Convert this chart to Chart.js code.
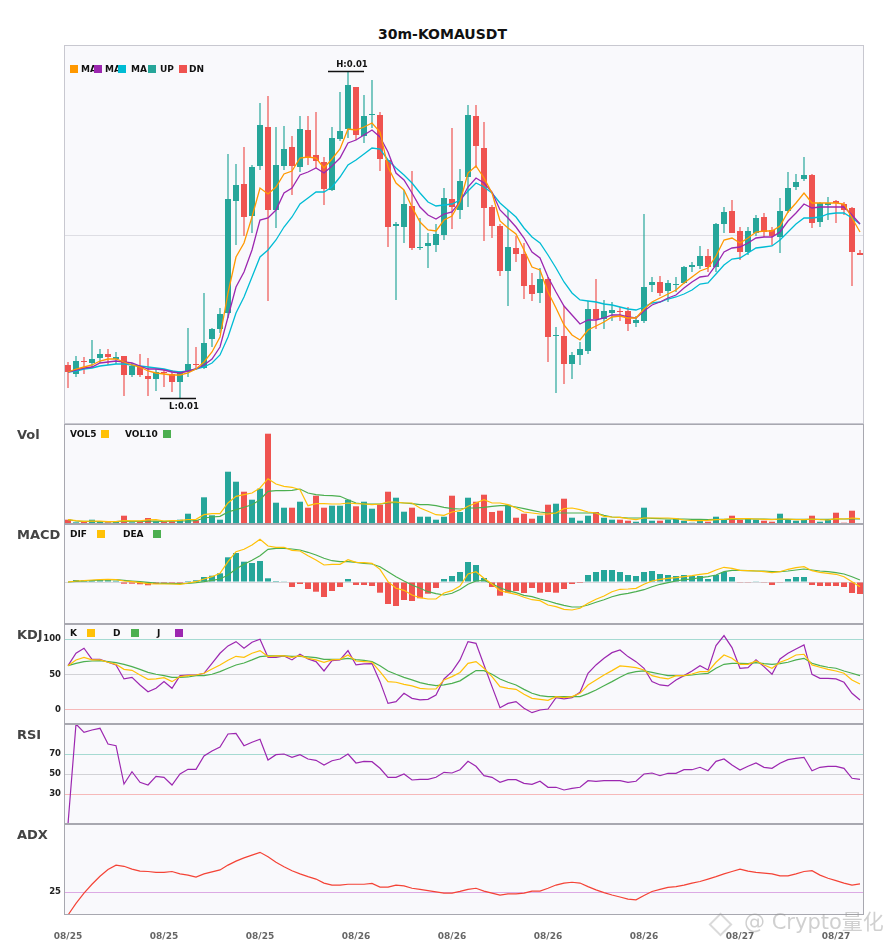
<!DOCTYPE html>
<html lang="en">
<head>
  <meta charset="UTF-8" />
  <title>30m-KOMAUSDT</title>
  <script src="https://cdn.jsdelivr.net/npm/chart.js"></script>
  <style>
    body { margin: 0; background: #fff; font-family: "DejaVu Sans", "Noto Sans CJK SC", sans-serif; }
    #wrap { position: relative; width: 885px; height: 950px; overflow: hidden; }
    .panel { position: absolute; left: 0; width: 885px; }
    .title { position: absolute; left: 0; width: 885px; top: 25px; line-height: 18px; text-align: center; font-size: 14px; font-weight: bold; color: #111; }
    .side { position: absolute; left: 17px; font-size: 13px; font-weight: bold; color: #444; line-height: 16px; }
    .lg { position: absolute; font-size: 9px; font-weight: bold; color: #111; line-height: 10px; white-space: nowrap; }
    .sq { position: absolute; width: 8px; height: 8px; }
    .mark { position: absolute; left: 744px; top: 909px; font-size: 21px; line-height: 26px; color: rgba(150,150,150,0.45); white-space: nowrap; }
    .logo { position: absolute; left: 712px; top: 916px; width: 13px; height: 13px; border: 2px solid rgba(150,150,150,0.35); transform: rotate(45deg); }
  </style>
</head>
<body>
<div id="wrap">
  <div class="title">30m-KOMAUSDT</div>

  <div class="panel" style="top:45px;height:379px"><canvas id="cMain"></canvas></div>
  <div class="panel" style="top:424px;height:100px"><canvas id="cVol"></canvas></div>
  <div class="panel" style="top:524px;height:100px"><canvas id="cMacd"></canvas></div>
  <div class="panel" style="top:624px;height:100px"><canvas id="cKdj"></canvas></div>
  <div class="panel" style="top:724px;height:100px"><canvas id="cRsi"></canvas></div>
  <div class="panel" style="top:824px;height:126px"><canvas id="cAdx"></canvas></div>

  <!-- panel names -->
  <div class="side" style="top:427px">Vol</div>
  <div class="side" style="top:527px">MACD</div>
  <div class="side" style="top:627px">KDJ</div>
  <div class="side" style="top:727px">RSI</div>
  <div class="side" style="top:827px">ADX</div>

  <!-- main legend (items overlap like the original) -->
  <div class="sq" style="left:70px;top:65px;background:#ff9800"></div>
  <div class="lg" style="left:81px;top:64px">MA</div>
  <div class="sq" style="left:94px;top:65px;background:#9c27b0"></div>
  <div class="lg" style="left:105px;top:64px">MA</div>
  <div class="sq" style="left:118px;top:65px;background:#00bcd4"></div>
  <div class="lg" style="left:131px;top:64px">MA</div>
  <div class="sq" style="left:148px;top:65px;background:#26a69a"></div>
  <div class="lg" style="left:160px;top:64px">UP</div>
  <div class="sq" style="left:179px;top:65px;background:#ef5350"></div>
  <div class="lg" style="left:189px;top:64px">DN</div>

  <!-- sub legends -->
  <div class="lg" style="left:70px;top:429px">VOL5</div>
  <div class="sq" style="left:101px;top:430px;background:#ffc107"></div>
  <div class="lg" style="left:125px;top:429px">VOL10</div>
  <div class="sq" style="left:163px;top:430px;background:#4caf50"></div>

  <div class="lg" style="left:70px;top:529px">DIF</div>
  <div class="sq" style="left:97px;top:530px;background:#ffc107"></div>
  <div class="lg" style="left:123px;top:529px">DEA</div>
  <div class="sq" style="left:153px;top:530px;background:#4caf50"></div>

  <div class="lg" style="left:70px;top:628px">K</div>
  <div class="sq" style="left:87px;top:629px;background:#ffc107"></div>
  <div class="lg" style="left:113px;top:628px">D</div>
  <div class="sq" style="left:131px;top:629px;background:#4caf50"></div>
  <div class="lg" style="left:157px;top:628px">J</div>
  <div class="sq" style="left:175px;top:629px;background:#9c27b0"></div>

  <div class="logo"></div>
  <div class="mark">@ Crypto量化</div>
</div>

<script>
  // ---- price data (30m candles) ----
  const open = [0.00870,0.00861,0.00874,0.00872,0.00877,0.00881,0.00876,0.00879,0.00860,0.00869,
    0.00859,0.00856,0.00863,0.00861,0.00853,0.00863,0.00871,0.00867,0.00896,0.00906,
    0.00922,0.01034,0.01051,0.01019,0.01069,0.01108,0.01025,0.01069,0.01088,0.01068,
    0.01105,0.01080,0.01073,0.01045,0.01096,0.01106,0.01148,0.01099,0.01120,0.01120,
    0.01075,0.01009,0.01008,0.01029,0.00987,0.00989,0.00990,0.01000,0.01036,0.01025,
    0.01058,0.01119,0.01087,0.01028,0.01009,0.00964,0.00987,0.00981,0.00950,0.00942,
    0.00956,0.00899,0.00899,0.00871,0.00880,0.00884,0.00926,0.00916,0.00922,0.00924,
    0.00924,0.00912,0.00914,0.00950,0.00953,0.00944,0.00950,0.00952,0.00968,0.00969,
    0.00979,0.00968,0.01011,0.01024,0.01004,0.00983,0.01002,0.01018,0.01005,0.00998,
    0.01024,0.01048,0.01056,0.01060,0.01013,0.01030,0.01034,0.01031,0.01027,0.00982];
  const high = [0.00873,0.00879,0.00878,0.00895,0.00886,0.00886,0.00883,0.00879,0.00872,0.00881,
    0.00877,0.00866,0.00865,0.00865,0.00864,0.00907,0.00888,0.00942,0.00907,0.00927,
    0.01081,0.01071,0.01088,0.01070,0.01132,0.01139,0.01108,0.01109,0.01099,0.01119,
    0.01119,0.01123,0.01078,0.01108,0.01143,0.01163,0.01148,0.01140,0.01155,0.01123,
    0.01075,0.01013,0.01045,0.01064,0.01017,0.01002,0.01011,0.01047,0.01107,0.01066,
    0.01130,0.01130,0.01113,0.01030,0.01011,0.01025,0.00999,0.00992,0.00962,0.00967,
    0.00958,0.00908,0.00929,0.00883,0.00893,0.00934,0.00956,0.00935,0.00933,0.00928,
    0.00928,0.00919,0.01021,0.00958,0.00959,0.00955,0.00958,0.00969,0.00973,0.00989,
    0.00986,0.01012,0.01028,0.01035,0.01008,0.01008,0.01020,0.01022,0.01008,0.01037,
    0.01063,0.01061,0.01078,0.01061,0.01033,0.01038,0.01035,0.01033,0.01028,0.00985];
  const low = [0.00847,0.00858,0.00861,0.00868,0.00872,0.00870,0.00871,0.00839,0.00858,0.00858,
    0.00839,0.00844,0.00848,0.00843,0.00837,0.00858,0.00866,0.00866,0.00888,0.00902,
    0.00917,0.00990,0.00999,0.01002,0.01065,0.00934,0.01007,0.01065,0.01040,0.01063,
    0.01070,0.01067,0.01030,0.01044,0.01094,0.01097,0.01095,0.01092,0.01107,0.01064,
    0.00988,0.00935,0.00992,0.00985,0.00985,0.00967,0.00983,0.00995,0.01006,0.01016,
    0.01028,0.01067,0.00994,0.00997,0.00959,0.00929,0.00973,0.00936,0.00934,0.00932,
    0.00873,0.00842,0.00851,0.00856,0.00870,0.00881,0.00906,0.00906,0.00914,0.00914,
    0.00904,0.00908,0.00912,0.00943,0.00939,0.00933,0.00943,0.00951,0.00963,0.00966,
    0.00963,0.00963,0.01002,0.01002,0.00975,0.00980,0.00999,0.00998,0.00990,0.00982,
    0.01022,0.01045,0.01054,0.01007,0.01008,0.01015,0.01012,0.01020,0.00949,0.00980];
  const close = [0.00863,0.00874,0.00873,0.00876,0.00881,0.00878,0.00878,0.00860,0.00869,0.00860,
    0.00856,0.00863,0.00862,0.00853,0.00863,0.00871,0.00870,0.00892,0.00906,0.00921,
    0.01036,0.01050,0.01018,0.01068,0.01110,0.01025,0.01070,0.01086,0.01069,0.01106,
    0.01078,0.01074,0.01046,0.01097,0.01104,0.01150,0.01100,0.01119,0.01121,0.01076,
    0.01008,0.01011,0.01031,0.00987,0.00988,0.00992,0.01001,0.01037,0.01028,0.01054,
    0.01120,0.01089,0.01027,0.01009,0.00964,0.00988,0.00981,0.00949,0.00941,0.00956,
    0.00898,0.00900,0.00871,0.00880,0.00886,0.00926,0.00916,0.00924,0.00925,0.00923,
    0.00911,0.00915,0.00948,0.00953,0.00942,0.00952,0.00951,0.00968,0.00970,0.00979,
    0.00968,0.01011,0.01023,0.01002,0.00983,0.01004,0.01017,0.01003,0.00999,0.01024,
    0.01047,0.01053,0.01060,0.01012,0.01032,0.01032,0.01032,0.01025,0.00983,0.00980];

  const ma5 = [0.00863,0.00866,0.00868,0.00870,0.00874,0.00876,0.00876,0.00873,0.00870,0.00868,
    0.00864,0.00862,0.00861,0.00860,0.00860,0.00862,0.00866,0.00873,0.00883,0.00898,
    0.00942,0.00978,0.00992,0.01018,0.01047,0.01041,0.01048,0.01061,0.01064,0.01077,
    0.01078,0.01077,0.01067,0.01076,0.01086,0.01106,0.01105,0.01108,0.01112,0.01103,
    0.01068,0.01052,0.01045,0.01028,0.01013,0.01005,0.01004,0.01015,0.01019,0.01033,
    0.01062,0.01069,0.01057,0.01042,0.01014,0.01007,0.01001,0.00985,0.00968,0.00965,
    0.00943,0.00927,0.00910,0.00900,0.00895,0.00905,0.00909,0.00913,0.00918,0.00919,
    0.00917,0.00917,0.00926,0.00933,0.00937,0.00941,0.00945,0.00952,0.00958,0.00964,
    0.00967,0.00979,0.00995,0.00997,0.00992,0.00997,0.01003,0.01004,0.01004,0.01009,
    0.01023,0.01032,0.01042,0.01032,0.01032,0.01032,0.01032,0.01031,0.01017,0.01003];
  const ma10 = [0.00863,0.00865,0.00867,0.00868,0.00872,0.00873,0.00874,0.00873,0.00872,0.00869,
    0.00866,0.00866,0.00865,0.00863,0.00862,0.00864,0.00866,0.00870,0.00876,0.00888,
    0.00918,0.00948,0.00963,0.00985,0.01015,0.01017,0.01025,0.01042,0.01047,0.01060,
    0.01063,0.01067,0.01062,0.01069,0.01077,0.01092,0.01095,0.01100,0.01105,0.01098,
    0.01083,0.01062,0.01055,0.01042,0.01028,0.01020,0.01016,0.01021,0.01023,0.01033,
    0.01048,0.01057,0.01052,0.01043,0.01025,0.01017,0.01008,0.00997,0.00983,0.00977,
    0.00958,0.00943,0.00929,0.00920,0.00911,0.00915,0.00915,0.00917,0.00920,0.00920,
    0.00918,0.00917,0.00924,0.00930,0.00933,0.00937,0.00940,0.00947,0.00953,0.00958,
    0.00959,0.00970,0.00983,0.00987,0.00988,0.00992,0.00997,0.00998,0.00998,0.01003,
    0.01014,0.01022,0.01031,0.01027,0.01028,0.01028,0.01028,0.01028,0.01020,0.01011];
  const ma20 = [0.00863,0.00864,0.00866,0.00867,0.00869,0.00870,0.00871,0.00871,0.00870,0.00869,
    0.00868,0.00867,0.00866,0.00864,0.00863,0.00864,0.00866,0.00868,0.00872,0.00880,
    0.00898,0.00922,0.00938,0.00958,0.00978,0.00985,0.00995,0.01008,0.01018,0.01031,
    0.01037,0.01043,0.01043,0.01048,0.01058,0.01070,0.01075,0.01081,0.01087,0.01086,
    0.01075,0.01067,0.01060,0.01052,0.01042,0.01033,0.01029,0.01030,0.01031,0.01035,
    0.01044,0.01052,0.01048,0.01042,0.01032,0.01025,0.01018,0.01007,0.00998,0.00992,
    0.00980,0.00967,0.00953,0.00942,0.00935,0.00934,0.00933,0.00931,0.00930,0.00928,
    0.00926,0.00925,0.00928,0.00932,0.00933,0.00936,0.00938,0.00941,0.00945,0.00951,
    0.00952,0.00961,0.00970,0.00976,0.00977,0.00982,0.00987,0.00988,0.00989,0.00995,
    0.01003,0.01011,0.01017,0.01017,0.01018,0.01021,0.01022,0.01022,0.01017,0.01011];

  // ---- volume ----
  const volume = [4300,1700,2000,4300,2000,1700,2000,8300,1700,2700,
    6000,2700,2700,2700,4300,10300,3700,26700,8700,4300,
    52300,42300,32300,24300,35300,90300,21300,16300,16300,22300,
    16300,28300,16300,18300,18300,24300,17700,22300,15300,19300,
    32300,26300,12300,16300,7300,7300,4300,7300,28300,12000,
    26300,22300,29300,12000,13300,19300,6300,10300,5300,8300,
    19300,20300,25300,6300,3300,8300,12000,6300,4300,4300,
    3300,2300,16300,3300,3300,4300,5300,3300,1300,3300,
    2300,7300,4300,8300,4300,5300,4300,3300,2300,10300,
    4300,3300,4300,8300,2300,4300,11300,1300,13300,700];
  const vol5 = [4300,3300,2700,3000,2900,2300,2400,3300,3100,3200,
    4200,4300,3000,3400,3700,4500,4700,9300,10300,10300,
    21000,27700,29300,31000,36000,45300,40000,37700,36700,34300,
    18300,20300,20300,20000,20000,21000,20300,20000,19300,20000,
    22000,22000,21000,21000,16000,12700,9300,8700,12000,13300,
    17700,21000,24300,21000,21000,19300,16000,12000,11000,10000,
    10000,11000,15300,16000,14300,12000,11000,7700,7000,6700,
    5300,4300,6000,6000,6000,6000,5300,4000,3300,3300,
    3700,4300,4700,5300,5300,5300,5000,4700,4300,5000,
    5000,4300,4300,5000,4300,4000,5300,5000,6000,5300];
  const vol10 = [4300,3000,2700,2500,2400,2300,2300,2800,2700,2600,
    2800,2800,2700,2800,3000,3000,3300,6000,7000,7700,
    12000,14300,16700,19300,24300,32700,33300,33300,33700,35000,
    31000,29300,28700,28300,27700,24300,21000,20000,20000,20000,
    21000,21700,21000,20300,19300,19300,18300,16700,15300,15000,
    16000,16000,16700,17700,18300,18300,17000,15300,13700,12000,
    11000,11000,11000,11000,11000,11000,11000,8700,7000,6700,
    6000,6000,6000,5700,5300,5000,5000,5000,4700,4700,
    4300,4700,4700,4700,5000,5000,5000,5000,4700,4700,
    4700,4700,4700,4700,4700,4700,5000,5000,5000,5000];

  // ---- MACD (units of 1e-6) ----
  const macdHist = [0,2,1.7,2,2,2,1.3,-1.7,-1.7,-2.3,
    -3.3,-2,-1.7,-1.7,-1,1,1.7,5,6.3,8.7,
    24.7,29,20.3,19,21,3.7,1,0.3,-5,-2,
    -7,-9.7,-15,-9,-5,3,-3,-3,-4,-10.7,
    -22,-24,-18,-19,-16.3,-11.7,-6,3,6,10,
    20,17,4,-5,-13.7,-10.7,-9,-11,-6,-10.7,
    -10,-10.7,-7,-2,-1,7,10,12,12,10,
    7,6,10,11,8,7,6,7,6,6,
    3,7,10,5,-0.7,-0.7,0.7,-0.7,-3,-0.7,
    3,5,5,-3,-4,-4,-4,-5,-11,-12];
  const dif = [0,1,1.3,2,2.3,2.7,2.3,1,0.3,-0.7,
    -1.7,-2,-2,-2,-2.3,-1,0.3,3,5.3,8.7,
    20.3,30.3,32.7,37,42.7,36,34.7,34.7,31.7,31,
    26.3,22,17,17.7,17.7,22.3,19.7,19.3,18.7,12.7,
    0.3,-6.3,-8.3,-13,-15.7,-17,-17,-11,-8.7,-4,
    8,10.3,3.7,-2,-8.7,-10.7,-12.3,-15.3,-17.7,-18.7,
    -23,-24.7,-27.3,-28,-26.3,-21.3,-17.3,-14,-9.7,-7.3,
    -7,-6.3,-2.3,1,2.7,3.7,4.3,5.3,6.3,7.7,
    8.7,12,14.7,13.7,11.7,11.3,11,10.3,9.3,10.3,
    12.7,14.3,15.3,11.3,9.7,8.7,7.7,5.3,0.3,-4.7];
  const dea = [0,0.7,1,1.3,2,2.3,2.3,1.7,1,0.3,
    -0.3,-1,-1.3,-1.7,-1.7,-1.3,-0.7,0.3,1.7,3,
    7,13,17.7,21.7,26.3,32.7,33.7,33.7,33,32,
    29.7,27,23.7,21.3,20.3,20.3,19.7,18.7,18,15.3,
    10.3,5.3,1,-3,-6.3,-9.7,-11.7,-13,-11.3,-7.5,
    -2.3,1,1.7,-1.7,-5.7,-8.7,-10.7,-13.3,-14.7,-17,
    -19,-21.3,-23.3,-25,-25,-23,-20.3,-17.7,-14.7,-12.7,
    -11.3,-9.7,-7.7,-4.7,-2.3,-0.7,1,2.3,3,4.3,
    5.3,7,10.3,11.7,11.7,11.3,11,11,10.3,10.3,
    11,12,13,12,11,10.3,9.3,8,5.3,2];

  // ---- KDJ ----
  const kLine = [62.7,70.8,74.5,70.8,70.8,67.5,64.6,57.5,56.1,49.5,
    43.4,43.9,45.8,40.1,47.2,48.6,49.5,51.9,58,63.7,
    70.3,75.9,74.5,80.2,84,75.5,76.4,76.4,74.5,76.9,
    73.1,70.8,67.5,70.8,71.7,77.8,69.3,68.4,67.5,54.2,
    40.1,39.2,36.3,34,30.7,29.7,29.7,42.5,47.2,53,
    66,68.4,59,47.2,33,30.7,29.2,22.2,16.5,15.1,
    13.7,18.9,17.5,18.9,23.6,35.4,42.5,49.5,55.7,62.3,
    61.3,59.9,56.6,48.6,45.8,43.9,48.6,48.6,50.9,54.2,
    54.2,67.5,77.8,73.1,64.6,64.6,69.3,63.7,59,67.5,
    71.7,77.8,78.8,63.7,60.4,57.5,55.2,51.9,42.5,36.8];
  const dLine = [62.7,66,68.4,69.3,69.8,68.4,67,64.6,61.3,57.5,
    53.3,50.5,48.6,46.2,46.2,46.7,48.6,48.6,50.5,54.2,
    59,63.7,66.5,70.8,75.5,76.4,76.4,76.4,75.9,75.9,
    75,74.1,71.7,71.7,71.7,73.1,71.2,70.3,68.4,62.7,
    55.2,50.5,46.2,42.5,38.7,36.3,34.4,35.4,37.7,41.2,
    48.6,55.7,55.7,50.5,43.9,39.2,35.4,29.2,23.6,20.3,
    18.9,18.9,18.9,18.9,18.9,23.1,28.3,34.4,40.1,46.2,
    51.9,54.2,55.2,53.3,50.9,48.6,48.6,48.6,49.5,50.9,
    51.9,59,64.6,66,66,65.6,67,65.6,64.6,65.6,
    67.5,70.8,73.1,66,62.7,60.4,59,55.2,51.9,48.6];
  const jLine = [62.7,80.2,87.3,71.7,71.7,67.5,63.7,43.9,46.2,35.4,
    25.9,30.7,40.1,30.7,48.6,49.5,49.5,51.9,66,80.2,
    90.6,96.7,87.3,95.8,100,74.5,74.5,76.4,70.8,78.8,
    72.2,68.4,55.2,69.8,70.8,84,63.7,65.1,65.6,40.1,
    9.4,11.8,23.6,16.5,14.2,15.1,21.2,43.9,54.2,70.8,
    96.7,94.3,63.7,33,3.3,9.4,11.8,2.4,-3.8,0,
    1.4,17.5,15.6,17.5,25,51.9,63.7,73.1,81.1,84.9,
    75.5,68.4,59,40.1,35.4,34,42.5,48.6,55.2,62.7,
    56.6,91,105.2,88.2,59,59.9,70.8,61.3,50.5,72.2,
    80.2,86.3,92,50.5,44.8,44.8,43.9,39.2,23.6,14.2];

  // ---- RSI / ADX ----
  const rsi = [0,100,91.7,94,95.7,80,78.3,40,52.3,41.7,
    39,47.7,46.7,39,50,54.7,54.7,68,73,77,
    90,90.7,78.3,81.7,84.7,64,69.3,70,66.7,69.3,
    65,63.7,59,63.3,65,70,61,62.7,62.3,55.7,
    46.7,46.7,50,44,44.7,44.7,46.7,51.7,51,54.3,
    62.7,57.7,48.3,46.7,41.7,44.3,44.3,40.7,39.7,42.7,
    36.7,36.7,34,35.7,36.7,43.3,42.7,43.3,43.3,43.3,
    41.7,42.7,50,51,48.3,50.7,50.7,54.3,54.3,56.7,
    53.3,62.7,65,59,54,57.7,61,56.7,55.7,60.7,
    64.3,65.7,66.7,53.3,56.7,57.7,57.7,55.7,45.7,44.7];
  const adx = [19.3,22.2,24.8,27,29,30.7,31.8,31.5,30.8,30.3,
    30.2,30,30,30.2,29.6,29.3,28.8,29.6,30.1,30.6,
    31.8,32.8,33.6,34.3,35,33.9,32.5,31.4,30.4,29.6,
    28.9,28.3,27.3,26.8,26.8,27,27,27,27.2,26.3,
    26.3,26.8,26.6,26,25.7,25.4,25.1,24.8,24.8,25.2,
    25.7,26,25.3,24.8,24.3,24.6,24.6,24.8,25.3,25.3,
    26,26.8,27.3,27.5,27.3,26.4,25.6,24.9,24.3,23.8,
    23.3,23.1,24.2,25.2,25.7,26.2,26.4,26.8,27.3,27.7,
    28.3,28.9,29.6,30.2,30.8,30.3,30,29.8,29.6,29.1,
    29.1,29.6,30.2,30.4,29.3,28.5,27.9,27.3,26.8,27.1];

  // x tick labels, one every 12 candles
  const xTicks = ['08/25','08/25','08/25','08/26','08/26','08/26','08/26','08/27','08/27'];
  const tickEvery = 12;

  const UP = '#26a69a', DN = '#ef5350';
  const idx = open.map((_, i) => i);
  const candleColors = close.map((c, i) => c >= open[i] ? UP : DN);
  const histColors = macdHist.map(v => v >= 0 ? UP : DN);

  Chart.defaults.font.family = '"DejaVu Sans", sans-serif';

  // plot background + box
  Chart.register({
    id: 'frame',
    beforeDraw(chart) {
      const { ctx, chartArea: a } = chart;
      ctx.save();
      ctx.fillStyle = '#f9f9fc';
      ctx.fillRect(a.left, a.top, a.right - a.left, a.bottom - a.top);
      ctx.restore();
    },
    afterDraw(chart, args, opts) {
      const { ctx, chartArea: a } = chart;
      ctx.save();
      ctx.strokeStyle = opts.color || '#b0b0b8';
      ctx.lineWidth = 1;
      ctx.strokeRect(a.left + 0.5, a.top + 0.5, a.right - a.left - 1, a.bottom - a.top - 1);
      ctx.restore();
    }
  });

  // H / L markers on the candle chart
  const hiLo = {
    id: 'hiLo',
    afterDatasetsDraw(chart) {
      const { ctx, scales: { x, y } } = chart;
      let hi = 0, lo = 0;
      high.forEach((v, i) => { if (v > high[hi]) hi = i; });
      low.forEach((v, i) => { if (v < low[lo]) lo = i; });
      ctx.save();
      ctx.strokeStyle = '#111';
      ctx.fillStyle = '#111';
      ctx.lineWidth = 1.3;
      ctx.font = 'bold 8.5px "DejaVu Sans"';
      ctx.textAlign = 'center';
      ctx.textBaseline = 'middle';
      const hx = x.getPixelForValue(hi), hy = Math.round(y.getPixelForValue(high[hi])) - 0.5;
      ctx.beginPath(); ctx.moveTo(hx - 20, hy); ctx.lineTo(hx + 16, hy); ctx.stroke();
      ctx.fillText('H:' + high[hi].toFixed(2), hx + 4, hy - 6.5);
      const lx = x.getPixelForValue(lo), ly = Math.round(y.getPixelForValue(low[lo])) + 0.5;
      ctx.beginPath(); ctx.moveTo(lx - 20, ly); ctx.lineTo(lx + 16, ly); ctx.stroke();
      ctx.fillText('L:' + low[lo].toFixed(2), lx + 4, ly + 8.5);
      ctx.restore();
    }
  };

  function xAxis(show) {
    return {
      type: 'category',
      offset: true,
      display: show,
      grid: { display: false, drawTicks: false },
      border: { display: false },
      afterFit(s) { if (show) s.height = 35; s.paddingLeft = 0; s.paddingRight = 0; },
      ticks: {
        autoSkip: false, maxRotation: 0, minRotation: 0, padding: 16,
        color: '#666', font: { size: 9, weight: 'bold' },
        callback: (v, i) => i % tickEvery === 0 ? xTicks[i / tickEvery] : ''
      }
    };
  }

  function yAxis(min, max, tickVals, gridColors, showLabels) {
    return {
      min, max,
      position: 'left',
      border: { display: false },
      afterFit(s) { s.width = 64; s.paddingTop = 0; s.paddingBottom = 0; },
      afterBuildTicks(s) { s.ticks = tickVals.map(v => ({ value: v })); },
      grid: { drawTicks: false, lineWidth: 1, color: c => gridColors[c.index] || 'rgba(0,0,0,0)' },
      ticks: { display: showLabels, padding: 3, color: '#222', font: { size: 8.5, weight: 'bold' } }
    };
  }

  function options(y, showX, frameColor) {
    return {
      responsive: true,
      maintainAspectRatio: false,
      animation: false,
      events: [],
      layout: { padding: { left: 0, right: 21, top: 0, bottom: 0 } },
      plugins: { legend: { display: false }, tooltip: { enabled: false }, frame: { color: frameColor } },
      scales: { x: xAxis(showX), y }
    };
  }

  const line = (data, color, width) => ({
    type: 'line', data, borderColor: color, borderWidth: width || 1.3,
    pointRadius: 0, tension: 0, fill: false, order: 0
  });
  const bars = (data, colors, pct, order) => ({
    type: 'bar', data, backgroundColor: colors, borderWidth: 0,
    barPercentage: pct, categoryPercentage: 1, grouped: false, order
  });

  // candles
  new Chart(document.getElementById('cMain'), {
    type: 'bar',
    data: {
      labels: idx,
      datasets: [
        line(ma5, '#ff9800'),
        line(ma10, '#9c27b0'),
        line(ma20, '#00bcd4'),
        Object.assign(bars(open.map((o, i) => [o, close[i]]), candleColors, 0.75, 1), { minBarLength: 1 }),
        bars(low.map((l, i) => [l, high[i]]), candleColors, 0.15, 2)
      ]
    },
    options: options(yAxis(0.00811, 0.0119, [0.01], ['#dedee4'], false), false, '#c8c8d0'),
    plugins: [hiLo]
  });

  // volume
  new Chart(document.getElementById('cVol'), {
    type: 'bar',
    data: {
      labels: idx,
      datasets: [line(vol5, '#ffc107', 1.2), line(vol10, '#4caf50', 1.2), bars(volume, candleColors, 0.75, 1)]
    },
    options: options(yAxis(0, 100000, [], [], false), false, '#a8a8b0')
  });

  // MACD
  new Chart(document.getElementById('cMacd'), {
    type: 'bar',
    data: {
      labels: idx,
      datasets: [line(dif, '#ffc107', 1.2), line(dea, '#4caf50', 1.2), bars(macdHist, histColors, 0.75, 1)]
    },
    options: options(yAxis(-42, 58, [0], ['#d6d6da'], false), false, '#a8a8b0')
  });

  // KDJ
  new Chart(document.getElementById('cKdj'), {
    type: 'line',
    data: {
      labels: idx,
      datasets: [line(kLine, '#ffc107', 1.2), line(dLine, '#4caf50', 1.2), line(jLine, '#9c27b0', 1.2)]
    },
    options: options(yAxis(-19.8, 121.6, [0, 50, 100], ['#f6b9b9', '#d2d2d6', '#a6dad2'], true), false, '#a8a8b0')
  });

  // RSI
  new Chart(document.getElementById('cRsi'), {
    type: 'line',
    data: { labels: idx, datasets: [line(rsi, '#9c27b0', 1.2)] },
    options: options(yAxis(0, 100, [30, 50, 70], ['#f6b9b9', '#d2d2d6', '#a6dad2'], true), false, '#a8a8b0')
  });

  // ADX
  new Chart(document.getElementById('cAdx'), {
    type: 'line',
    data: { labels: idx, datasets: [line(adx, '#f44336', 1.2)] },
    options: options(yAxis(19.3, 42.1, [25], ['#dcaae4'], true), true, '#a8a8b0')
  });
</script>
</body>
</html>
